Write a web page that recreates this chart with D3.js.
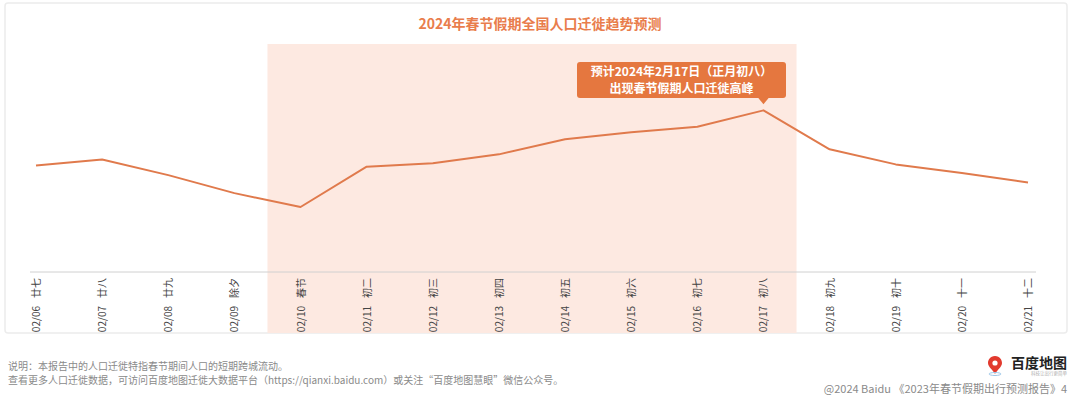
<!DOCTYPE html>
<html>
<head>
<meta charset="utf-8">
<script src="https://cdn.jsdelivr.net/npm/d3@7"></script>
<style>
  body { margin: 0; background: #fff; }
  svg { display: block; font-family: "Noto Sans CJK SC", "Noto Sans", sans-serif; }
</style>
</head>
<body>
<svg width="1074" height="398"></svg>
<script>
const dates = ['02/06', '02/07', '02/08', '02/09', '02/10', '02/11', '02/12', '02/13',
  '02/14', '02/15', '02/16', '02/17', '02/18', '02/19', '02/20', '02/21'];
const lunar = ['廿七', '廿八', '廿九', '除夕', '春节', '初二', '初三', '初四',
  '初五', '初六', '初七', '初八', '初九', '初十', '十一', '十二'];
// relative migration index
const values = [46.7, 49.3, 42.5, 34.6, 28.5, 46.2, 47.7, 51.6,
  58.2, 61.3, 63.7, 70.9, 53.8, 47.2, 43.4, 39.3];
const holiday = ['02/10', '02/17'];
const peak = '02/17';

const orange = '#e5773f';
let svg = d3.select('svg');

// panel
svg.append('rect')
  .attr('x', 5).attr('y', 3)
  .attr('width', 1062).attr('height', 330)
  .attr('rx', 3)
  .attr('fill', '#fff')
  .attr('stroke', '#ececec')
  .attr('stroke-width', 1.5);

let x = d3.scalePoint().domain(dates).range([36, 1028]);
let y = d3.scaleLinear().domain([0, 100]).range([272, 44]);
let step = x.step();

// holiday band
svg.append('rect')
  .attr('x', x(holiday[0]) - step / 2)
  .attr('y', y(100))
  .attr('width', x(holiday[1]) - x(holiday[0]) + step)
  .attr('height', 333 - y(100))
  .attr('fill', '#fde9e1');

svg.append('text')
  .attr('x', 540).attr('y', 29)
  .attr('text-anchor', 'middle')
  .attr('fill', '#e97d4c')
  .attr('font-size', 14)
  .attr('font-weight', 'bold')
  .text('2024年春节假期全国人口迁徙趋势预测');

// axis line
svg.append('line')
  .attr('x1', 30).attr('x2', 1036)
  .attr('y1', y(0)).attr('y2', y(0))
  .attr('stroke', '#d0d0d0')
  .attr('stroke-width', 1);

// x labels, rotated
let labels = svg.append('g')
  .selectAll('text')
  .data(dates)
  .enter()
  .append('text')
  .attr('transform', d => `translate(${x(d) + 4},${y(0) + 6}) rotate(-90)`)
  .attr('text-anchor', 'end')
  .attr('fill', '#444')
  .attr('font-size', 10);
labels.append('tspan').text(d => d);
labels.append('tspan').attr('dx', 8).text((d, i) => lunar[i]);

// line
let line = d3.line()
  .x((d, i) => x(dates[i]))
  .y(d => y(d));

svg.append('path')
  .datum(values)
  .attr('d', line)
  .attr('fill', 'none')
  .attr('stroke', '#e07a4c')
  .attr('stroke-width', 2)
  .attr('stroke-linejoin', 'round');

// callout
let px = x(peak), py = y(values[dates.indexOf(peak)]);
let box = { x0: 577, x1: 786, y0: 62, y1: 98 };
svg.append('rect')
  .attr('x', box.x0).attr('y', box.y0)
  .attr('width', box.x1 - box.x0).attr('height', box.y1 - box.y0)
  .attr('rx', 3)
  .attr('fill', orange);
svg.append('path')
  .attr('d', `M${px - 6},${box.y1 - 1} L${px + 6},${box.y1 - 1} L${px},${py - 6} Z`)
  .attr('fill', orange);
let cx = (box.x0 + box.x1) / 2;
svg.append('text')
  .attr('x', cx).attr('y', 75.5)
  .attr('text-anchor', 'middle')
  .attr('fill', '#fff')
  .attr('font-size', 12)
  .attr('font-weight', 'bold')
  .text('预计2024年2月17日（正月初八）');
svg.append('text')
  .attr('x', cx).attr('y', 93)
  .attr('text-anchor', 'middle')
  .attr('fill', '#fff')
  .attr('font-size', 12)
  .attr('font-weight', 'bold')
  .text('出现春节假期人口迁徙高峰');

// footnotes
svg.append('text')
  .attr('x', 8).attr('y', 370)
  .attr('fill', '#8a8a8a')
  .attr('font-size', 10)
  .text('说明：本报告中的人口迁徙特指春节期间人口的短期跨城流动。');
svg.append('text')
  .attr('x', 8).attr('y', 384)
  .attr('fill', '#8a8a8a')
  .attr('font-size', 10)
  .text('查看更多人口迁徙数据，可访问百度地图迁徙大数据平台（https://qianxi.baidu.com）或关注“百度地图慧眼”微信公众号。');

// logo
let logo = svg.append('g').attr('transform', 'translate(995,364)');
logo.append('path')
  .attr('d', 'M0,-8 C-5,-8 -7,-4 -7,-1 C-7,3 -2,6 0,10 C2,6 7,3 7,-1 C7,-4 5,-8 0,-8 Z')
  .attr('fill', '#e23a2e');
logo.append('circle').attr('cx', 0).attr('cy', -1).attr('r', 2.6).attr('fill', '#fff');
logo.append('ellipse').attr('cx', 0).attr('cy', 10).attr('rx', 6).attr('ry', 1.5)
  .attr('fill', 'none').attr('stroke', '#9ec7e8').attr('stroke-width', 1);
svg.append('text')
  .attr('x', 1067).attr('y', 368)
  .attr('text-anchor', 'end')
  .attr('fill', '#222')
  .attr('font-size', 14)
  .attr('font-weight', 'bold')
  .text('百度地图');
svg.append('text')
  .attr('x', 1067).attr('y', 375)
  .attr('text-anchor', 'end')
  .attr('fill', '#aaa')
  .attr('font-size', 4.5)
  .text('科技让出行更简单');
svg.append('text')
  .attr('x', 1067).attr('y', 393)
  .attr('text-anchor', 'end')
  .attr('fill', '#8a8a8a')
  .attr('font-size', 11)
  .text('@2024 Baidu 《2023年春节假期出行预测报告》4');
</script>
</body>
</html>
